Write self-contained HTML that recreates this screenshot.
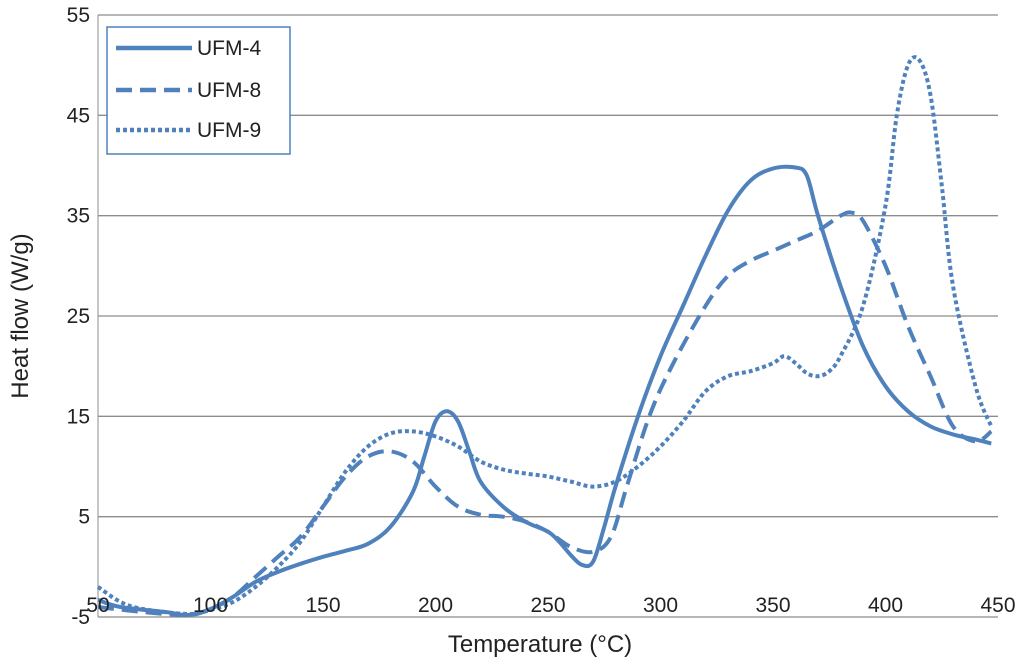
<!DOCTYPE html>
<html><head><meta charset="utf-8"><style>
body{margin:0;background:#fff;}
svg text{font-family:"Liberation Sans",sans-serif;fill:#222;}
</style></head><body>
<svg id="chart" width="1024" height="660" viewBox="0 0 1024 660" xmlns="http://www.w3.org/2000/svg">
<g id="grid"></g><g id="series"></g><g id="ticks"></g>
<text x="540" y="652" font-size="24" text-anchor="middle">Temperature (°C)</text>
<text transform="translate(28,316) rotate(-90)" font-size="24" text-anchor="middle">Heat flow (W/g)</text>
<g>
<rect x="107" y="27" width="183" height="127" fill="#fff" stroke="#4f81bd" stroke-width="1.5"/>
<line x1="116" y1="48" x2="192" y2="48" stroke="#4f81bd" stroke-width="4.5"/>
<text x="197" y="55" font-size="21">UFM-4</text>
<line x1="116" y1="90" x2="192" y2="90" stroke="#4f81bd" stroke-width="4.5" stroke-dasharray="16,8"/>
<text x="197" y="97" font-size="21">UFM-8</text>
<line x1="116" y1="130" x2="192" y2="130" stroke="#4f81bd" stroke-width="4.5" stroke-dasharray="4,3"/>
<text x="197" y="137" font-size="21">UFM-9</text>
</g>
</svg>
<script>
const xTicks=[50,100,150,200,250,300,350,400,450];
const yTicks=[-5,5,15,25,35,45,55];
const ufm4X=[50,60,80,90,100,110,120,130,140,150,160,170,180,190,195,200,205,210,215,220,230,240,250,255,260,265,270,275,280,290,300,310,320,330,340,350,360,365,370,380,390,400,410,420,430,440,447];
const ufm4Y=[-3.3,-4,-4.5,-4.8,-4.2,-3,-1.5,-0.5,0.3,1,1.6,2.3,4,7.5,11,14.5,15.5,14.5,11.5,8.5,6,4.5,3.5,2.5,1.2,0.2,0.5,4,8,15,21,26,31,35.5,38.5,39.7,39.8,39,35,28,22,18,15.5,14,13.2,12.7,12.3];
const ufm8X=[50,70,90,100,110,120,130,140,150,160,170,180,190,200,210,220,230,240,250,260,270,278,285,295,305,320,330,340,350,360,370,380,385,390,400,410,420,430,440,447];
const ufm8Y=[-4,-4.5,-4.8,-4.2,-3,-1,1,3,6,9,11,11.5,10.5,8,6,5.2,5,4.5,3.5,2,1.5,3,8,15,20,26,29,30.5,31.5,32.5,33.5,35,35.3,34.5,30,24,19,14,12.5,13.5];
const ufm9X=[50,60,70,90,100,110,120,130,140,150,160,170,180,190,200,210,220,230,240,250,260,270,280,290,300,310,320,330,340,350,355,360,365,370,375,380,390,400,405,410,415,420,425,430,440,447];
const ufm9Y=[-2,-3.5,-4.2,-4.7,-4.3,-3.5,-2,0,2.5,6,9.5,12,13.3,13.5,13,12,10.5,9.7,9.3,9,8.5,8,8.5,10,12,14.5,17.5,19,19.5,20.3,21,20.3,19.3,19,19.5,21,26,36,45,50,50.5,47,38,28,18,14];
const X0=98,X1=998,Y0=617,Y1=15;
const sx=v=>X0+(v-50)/400*(X1-X0);
const sy=v=>Y0-(v+5)/60*(Y0-Y1);
const NS="http://www.w3.org/2000/svg";
const grid=document.getElementById('grid'),ticks=document.getElementById('ticks'),series=document.getElementById('series');
yTicks.forEach(t=>{
 const l=document.createElementNS(NS,'line');
 
 
 l.setAttribute('x1',X0);l.setAttribute('x2',X1);l.setAttribute('y1',sy(t));l.setAttribute('y2',sy(t));
 l.setAttribute('stroke','#8c8c8c');l.setAttribute('stroke-width','1.3');grid.appendChild(l);
 const tx=document.createElementNS(NS,'text');
 
 
 tx.setAttribute('x',X0-8);tx.setAttribute('y',sy(t)+7);tx.setAttribute('text-anchor','end');tx.setAttribute('font-size','21');
 tx.textContent=t;ticks.appendChild(tx);
});
const ax=document.createElementNS(NS,'line');


ax.setAttribute('x1',X0);ax.setAttribute('x2',X0);ax.setAttribute('y1',Y1);ax.setAttribute('y2',Y0);ax.setAttribute('stroke','#8c8c8c');grid.appendChild(ax);
xTicks.forEach(t=>{
 const tx=document.createElementNS(NS,'text');
 
 
 tx.setAttribute('x',sx(t));tx.setAttribute('y',612);tx.setAttribute('text-anchor','middle');tx.setAttribute('font-size','21');
 tx.textContent=t;ticks.appendChild(tx);
});
function smoothPath(pts){
 let d='M'+pts[0][0].toFixed(1)+','+pts[0][1].toFixed(1);
 for(let i=0;i<pts.length-1;i++){
  const p0=pts[Math.max(i-1,0)],p1=pts[i],p2=pts[i+1],p3=pts[Math.min(i+2,pts.length-1)];
  const c1x=p1[0]+(p2[0]-p0[0])/6,c1y=p1[1]+(p2[1]-p0[1])/6;
  const c2x=p2[0]-(p3[0]-p1[0])/6,c2y=p2[1]-(p3[1]-p1[1])/6;
  d+='C'+c1x.toFixed(1)+','+c1y.toFixed(1)+' '+c2x.toFixed(1)+','+c2y.toFixed(1)+' '+p2[0].toFixed(1)+','+p2[1].toFixed(1);
 }
 return d;
}
function draw(xs,ys,dash,name){
 const p=document.createElementNS(NS,'path');
 
 
 p.setAttribute('d',smoothPath(xs.map((x,i)=>[sx(x),sy(ys[i])])));
 p.setAttribute('fill','none');p.setAttribute('stroke','#4f81bd');p.setAttribute('stroke-width','4');
 p.setAttribute('stroke-linejoin','round');
 if(dash)p.setAttribute('stroke-dasharray',dash);
 series.appendChild(p);
}
draw(ufm9X,ufm9Y,'4,3','series-ufm-9');
draw(ufm8X,ufm8Y,'16,8','series-ufm-8');
draw(ufm4X,ufm4Y,null,'series-ufm-4');
</script>
</body></html>
